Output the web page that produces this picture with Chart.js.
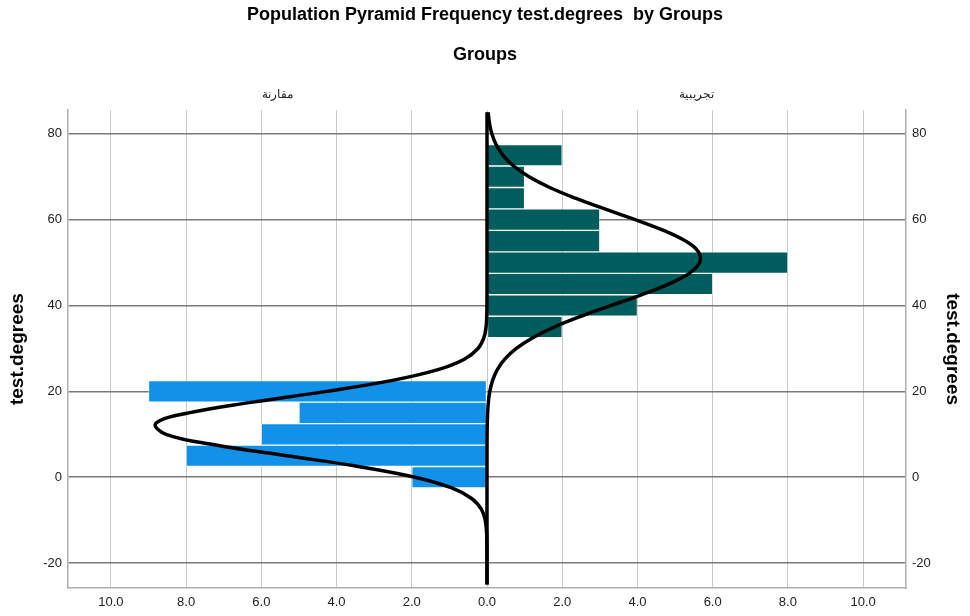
<!DOCTYPE html>
<html>
<head>
<meta charset="utf-8">
<script src="https://cdn.jsdelivr.net/npm/chart.js@4.4.1/dist/chart.umd.min.js"></script>
<style>
  body { margin: 0; background: #fff; }
  #wrap { width: 970px; height: 616px; }
</style>
</head>
<body>
<div id="wrap"><canvas id="pyramid"></canvas></div>
<script>
// Bin centres of test.degrees (bin width 5)
const degreeBins = [0, 5, 10, 15, 20, 25, 30, 35, 40, 45, 50, 55, 60, 65, 70, 75];
// Frequencies per group
const controlCounts = [2, 8, 6, 5, 9, 0, 0, 0, 0, 0, 0, 0, 0, 0, 0, 0];      // مقارنة
const experimentCounts = [0, 0, 0, 0, 0, 0, 0, 2, 4, 6, 8, 3, 3, 1, 1, 2];   // تجريبية

// Normal curves, at test.degrees levels
const curveLevels = [-25, -22.5, -20, -17.5, -15, -12.5, -10, -7.5, -5, -2.5, 0, 2.5, 5, 7.5, 10, 12.5, 15, 17.5, 20, 22.5,
  25, 27.5, 30, 32.5, 35, 37.5, 40, 42.5, 45, 47.5, 50, 52.5, 55, 57.5, 60, 62.5, 65, 67.5, 70, 72.5, 75, 77.5, 80, 82.5, 85];
const controlCurve = [0, 0, 0, 0.001, 0.003, 0.014, 0.048, 0.148, 0.399, 0.936, 1.915, 3.417, 5.316, 7.211, 8.534, 8.809,
  7.930, 6.227, 4.265, 2.548, 1.327, 0.603, 0.239, 0.083, 0.025, 0.007, 0.002, 0, 0, 0, 0, 0, 0, 0, 0, 0, 0, 0, 0, 0, 0, 0, 0, 0, 0];
const experimentCurve = [0, 0, 0, 0, 0, 0, 0, 0, 0, 0, 0, 0.0001, 0.0004, 0.001, 0.003, 0.007, 0.017, 0.036, 0.075, 0.147,
  0.271, 0.473, 0.780, 1.217, 1.794, 2.500, 3.294, 4.102, 4.828, 5.374, 5.652, 5.621, 5.283, 4.695, 3.943, 3.131, 2.350,
  1.668, 1.118, 0.709, 0.425, 0.241, 0.129, 0.065, 0.031];

const groupLabels = ['مقارنة', 'تجريبية'];
const yTicks = [-20, 0, 20, 40, 60, 80];
const xTicks = [-10, -8, -6, -4, -2, 0, 2, 4, 6, 8, 10];
const xMax = 11.14;
const yMin = -25.8, yMax = 85.5;

function barPoints(counts, sign) {
    return degreeBins
        .map((b, i) => ({ y: b, x: sign * counts[i] }))
        .filter(p => p.x !== 0);
}

function curvePoints(values, sign) {
    return curveLevels.map((lv, i) => ({ y: lv, x: sign * values[i] }));
}

// Group labels above each half of the pyramid
const panelLabels = {
    id: 'panelLabels',
    afterDraw(chart) {
        const ctx = chart.ctx;
        const xs = chart.scales.x;
        ctx.save();
        ctx.font = '12px "Liberation Sans", Arial, sans-serif';
        ctx.fillStyle = '#222';
        ctx.textAlign = 'center';
        ctx.textBaseline = 'middle';
        ctx.fillText(groupLabels[0], xs.getPixelForValue(-xMax / 2), 95);
        ctx.fillText(groupLabels[1], xs.getPixelForValue(xMax / 2), 95);
        ctx.restore();
    }
};

const fontFamily = '"Liberation Sans", Arial, sans-serif';
const tickFont = { family: fontFamily, size: 13 };
const titleFont = { family: fontFamily, size: 18, weight: 'bold' };
const axisTitleFont = { family: fontFamily, size: 19, weight: 'bold' };

function valueAxis(position, width, gridOpts) {
    return {
        type: 'linear',
        position: position,
        min: yMin,
        max: yMax,
        offset: false,
        afterBuildTicks: s => { s.ticks = yTicks.map(v => ({ value: v })); },
        afterFit: s => { s.width = width; },
        ticks: { color: '#222', font: tickFont, padding: 6 },
        grid: gridOpts,
        border: { color: '#b0b0b0', width: 1.5 },
        title: {
            display: true,
            text: 'test.degrees',
            color: '#000',
            font: axisTitleFont,
            padding: { top: 6, bottom: 0 }
        }
    };
}

new Chart(document.getElementById('pyramid'), {
    type: 'bar',
    data: {
        datasets: [
            {
                label: groupLabels[0],
                data: barPoints(controlCounts, -1),
                backgroundColor: '#1192e8',
                borderColor: 'rgba(255,255,255,0.35)',
                borderWidth: 1,
                borderSkipped: false,
                grouped: false,
                barPercentage: 1,
                categoryPercentage: 1,
                order: 2
            },
            {
                label: groupLabels[1],
                data: barPoints(experimentCounts, 1),
                backgroundColor: '#005d5d',
                borderColor: 'rgba(255,255,255,0.35)',
                borderWidth: 1,
                borderSkipped: false,
                grouped: false,
                barPercentage: 1,
                categoryPercentage: 1,
                order: 2
            },
            {
                type: 'line',
                indexAxis: 'y',
                data: curvePoints(controlCurve, -1),
                borderColor: '#000',
                borderWidth: 3.5,
                pointRadius: 0,
                tension: 0.4,
                fill: false,
                order: 1
            },
            {
                type: 'line',
                indexAxis: 'y',
                data: curvePoints(experimentCurve, 1),
                borderColor: '#000',
                borderWidth: 3.5,
                pointRadius: 0,
                tension: 0.4,
                fill: false,
                order: 1
            }
        ]
    },
    options: {
        indexAxis: 'y',
        responsive: true,
        maintainAspectRatio: false,
        animation: false,
        layout: { padding: 0 },
        plugins: {
            legend: { display: false },
            tooltip: { enabled: false },
            title: {
                display: true,
                text: 'Population Pyramid Frequency test.degrees  by Groups',
                color: '#000',
                font: titleFont,
                padding: { top: 4, bottom: 10 }
            },
            subtitle: {
                display: true,
                text: 'Groups',
                color: '#000',
                font: titleFont,
                padding: { top: 9, bottom: 44 }
            }
        },
        scales: {
            x: {
                type: 'linear',
                min: -xMax,
                max: xMax,
                afterBuildTicks: s => { s.ticks = xTicks.map(v => ({ value: v })); },
                afterFit: s => { s.height = 28; },
                ticks: {
                    color: '#222',
                    font: tickFont,
                    padding: 7,
                    maxRotation: 0,
                    autoSkip: false,
                    callback: v => Math.abs(v).toFixed(1)
                },
                grid: { color: '#c8c8c8', lineWidth: 1, drawTicks: false },
                border: { color: '#b0b0b0', width: 1.5 }
            },
            y: valueAxis('left', 68, { color: '#7a7a7a', lineWidth: 1.5, drawTicks: false, offset: false }),
            y2: valueAxis('right', 64, { drawOnChartArea: false, drawTicks: false, offset: false })
        }
    },
    plugins: [panelLabels]
});
</script>
</body>
</html>
